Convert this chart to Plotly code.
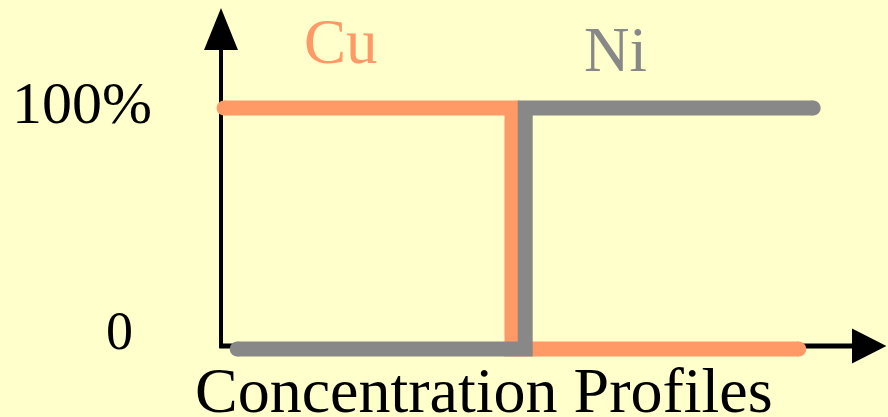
import plotly.graph_objects as go

# schematic concentration profiles across a Cu / Ni couple (distance in arbitrary units)
cu_distance = [0.05, 4.85, 4.85, 9.63]
cu_percent = [100, 100, 0, 0]
ni_distance = [0.27, 5.07, 5.07, 9.87]
ni_percent = [0, 0, 100, 100]

series_names = ["Cu", "Ni"]
series_colors = ["#FF9966", "#888888"]
tick_labels = ["100%", "0"]
title_text = "Concentration Profiles"

BG = "#FFFFCC"
FONT = "Liberation Serif, Times New Roman, serif"
LINE_W = 15

fig = go.Figure()

for name, xs, ys, color in zip(
    series_names, [cu_distance, ni_distance], [cu_percent, ni_percent], series_colors
):
    fig.add_trace(
        go.Scatter(
            x=xs,
            y=ys,
            mode="lines+markers",
            name=name,
            line=dict(color=color, width=LINE_W),
            # round end caps
            marker=dict(color=color, opacity=1, size=[LINE_W, 0, 0, LINE_W], line=dict(width=0)),
            hoverinfo="skip",
        )
    )

# axes drawn as arrows
axis_shapes = [
    dict(type="line", x0=0, x1=0, y0=0.4, y1=126, line=dict(color="black", width=4)),
    dict(type="line", x0=-0.03, x1=10.6, y0=1.25, y1=1.25, line=dict(color="black", width=5)),
    dict(
        type="path",
        path="M -0.283,124.07 L 0,141.5 L 0.283,124.07 Z",
        fillcolor="black",
        line=dict(width=0),
    ),
    dict(
        type="path",
        path="M 10.517,8.5 L 11.09,1.25 L 10.517,-6.0 Z",
        fillcolor="black",
        line=dict(width=0),
    ),
]
for s in axis_shapes:
    s.update(xref="x", yref="y", layer="below")

annotations = [
    dict(x=2.0, y=127.4, text=series_names[0], font=dict(size=63, color=series_colors[0])),
    dict(x=6.575, y=123.9, text=series_names[1], font=dict(size=63, color=series_colors[1])),
    dict(x=-2.325, y=102.1, text=tick_labels[0], font=dict(size=60, color="black")),
    dict(x=-1.69, y=7.47, text=tick_labels[1], font=dict(size=54, color="black")),
    dict(x=4.383, y=-17.4, text=title_text, font=dict(size=64, color="black")),
]
for a in annotations:
    a.update(xref="x", yref="y", showarrow=False, xanchor="center", yanchor="middle")
    a["font"]["family"] = FONT

fig.update_layout(
    width=888,
    height=417,
    margin=dict(l=0, r=0, t=0, b=0),
    paper_bgcolor=BG,
    plot_bgcolor=BG,
    showlegend=False,
    hovermode=False,
    shapes=axis_shapes,
    annotations=annotations,
    xaxis=dict(range=[-3.6833, 11.1167], visible=False, fixedrange=True),
    yaxis=dict(range=[-28.216, 144.813], visible=False, fixedrange=True),
)

fig.write_html(
    "out.html",
    config={"displayModeBar": False},
    post_script="document.body.style.margin='0';document.body.style.overflow='hidden';",
)
